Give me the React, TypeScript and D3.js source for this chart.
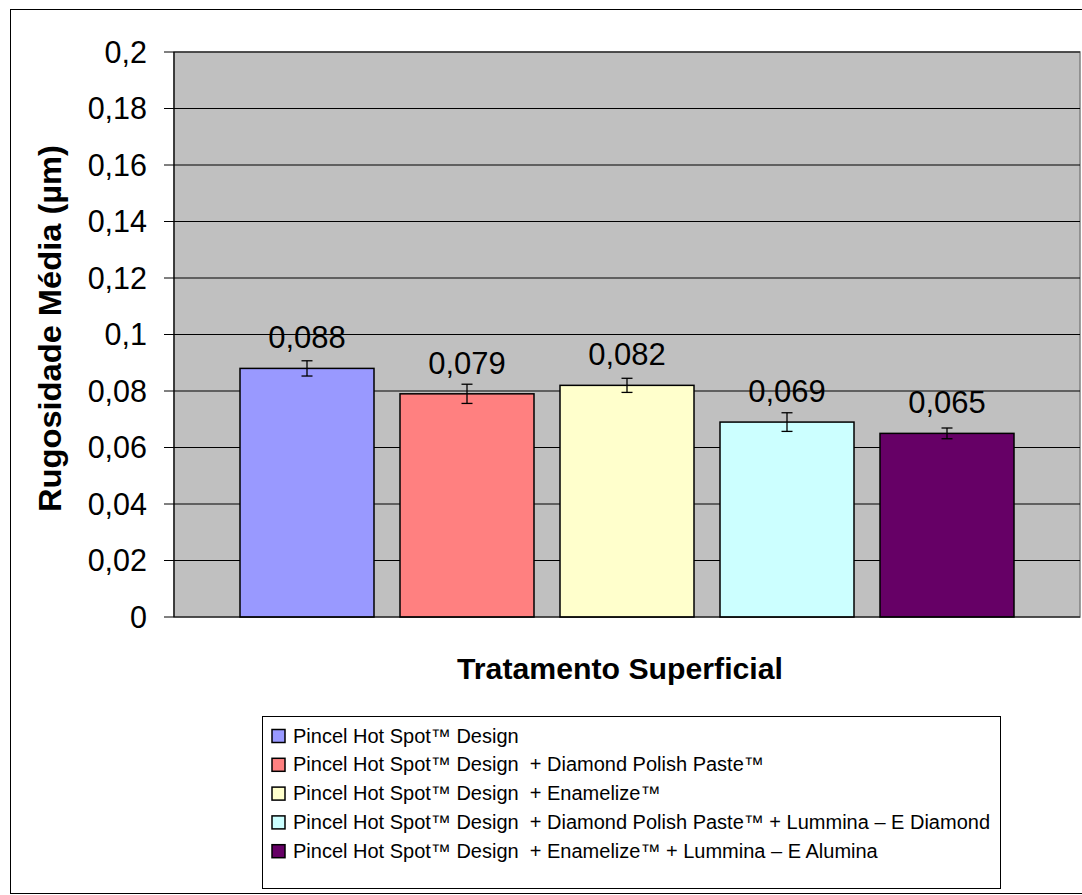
import React from "react";
import * as d3 from "d3";

// Mean roughness (Ra, µm) per surface treatment, with standard deviation bars
const seriesNames = [
  "Pincel Hot Spot™ Design",
  "Pincel Hot Spot™ Design  + Diamond Polish Paste™",
  "Pincel Hot Spot™ Design  + Enamelize™",
  "Pincel Hot Spot™ Design  + Diamond Polish Paste™ + Lummina – E Diamond",
  "Pincel Hot Spot™ Design  + Enamelize™ + Lummina – E Alumina",
];
const meanValues = [0.088, 0.079, 0.082, 0.069, 0.065];
const errorValues = [0.0027, 0.0034, 0.0025, 0.0033, 0.0019];
const seriesColors = ["#9999FF", "#FF8080", "#FFFFCC", "#CCFFFF", "#660066"];
const yTicks = [0, 0.02, 0.04, 0.06, 0.08, 0.1, 0.12, 0.14, 0.16, 0.18, 0.2];

const yTitle = "Rugosidade Média (µm)";
const xTitle = "Tratamento Superficial";

const W = 1082;
const H = 895;
const plot = { left: 174, top: 52, right: 1080, bottom: 617 };

const fmt = (v: number) => String(+v.toFixed(3)).replace(".", ",");

export default function App() {
  const y = d3.scaleLinear().domain([0, 0.2]).range([plot.bottom, plot.top]);
  const x = d3
    .scaleBand<string>()
    .domain(seriesNames)
    .range([227, 1027])
    .paddingInner(26 / 160)
    .paddingOuter(13 / 160);

  const font = "Arial, 'Liberation Sans', sans-serif";
  const legend = { x: 262, y: 716, w: 738, h: 172, row0: 736, step: 28.8 };

  return (
    <svg
      width={W}
      height={H}
      style={{ position: "absolute", left: 0, top: 0 }}
      fontFamily={font}
    >
      <rect x={0} y={0} width={W} height={H} fill="#fff" />
      {/* chart frame */}
      <rect x={10.5} y={9.5} width={W + 10} height={H - 11} fill="none" stroke="#000" strokeWidth={1} />

      {/* plot area */}
      <rect
        x={plot.left}
        y={plot.top}
        width={plot.right - plot.left}
        height={plot.bottom - plot.top}
        fill="#C0C0C0"
        stroke="#808080"
        strokeWidth={1.5}
      />

      {/* gridlines and ticks */}
      {yTicks.map((t) => (
        <g key={t}>
          {t > 0 && (
            <line x1={plot.left} x2={plot.right} y1={y(t)} y2={y(t)} stroke="#000" strokeWidth={1} />
          )}
          <line x1={plot.left - 10} x2={plot.left} y1={y(t)} y2={y(t)} stroke="#000" strokeWidth={1} />
          <text x={147} y={y(t)} dy="0.36em" textAnchor="end" fontSize={30.5} fill="#000">
            {fmt(t)}
          </text>
        </g>
      ))}
      <line x1={plot.left} x2={plot.left} y1={plot.top} y2={plot.bottom} stroke="#000" strokeWidth={1.2} />

      {/* bars */}
      {seriesNames.map((s, i) => {
        const bx = x(s)!;
        const bw = x.bandwidth();
        const cx = bx + bw / 2;
        const v = meanValues[i];
        const e = errorValues[i];
        return (
          <g key={s}>
            <rect x={bx} y={y(v)} width={bw} height={y(0) - y(v)} fill={seriesColors[i]} stroke="#000" strokeWidth={1.5} />
            <line x1={cx} x2={cx} y1={y(v + e)} y2={y(v - e)} stroke="#000" strokeWidth={1.3} />
            <line x1={cx - 5.5} x2={cx + 5.5} y1={y(v + e)} y2={y(v + e)} stroke="#000" strokeWidth={1.3} />
            <line x1={cx - 5.5} x2={cx + 5.5} y1={y(v - e)} y2={y(v - e)} stroke="#000" strokeWidth={1.3} />
            <text x={cx} y={y(v) - 20} textAnchor="middle" fontSize={31} fill="#000">
              {fmt(v)}
            </text>
          </g>
        );
      })}
      <line x1={plot.left} x2={plot.right} y1={plot.bottom} y2={plot.bottom} stroke="#000" strokeWidth={1.2} />

      {/* axis titles */}
      <text
        transform={`translate(61,${328.5}) rotate(-90)`}
        textAnchor="middle"
        fontSize={31}
        fontWeight="bold"
        fill="#000"
        textLength={367}
        lengthAdjust="spacingAndGlyphs"
      >
        {yTitle}
      </text>
      <text
        x={620}
        y={679}
        textAnchor="middle"
        fontSize={30}
        fontWeight="bold"
        fill="#000"
        textLength={326}
        lengthAdjust="spacingAndGlyphs"
      >
        {xTitle}
      </text>

      {/* legend */}
      <rect x={legend.x + 0.5} y={legend.y + 0.5} width={legend.w} height={legend.h} fill="#fff" stroke="#000" strokeWidth={1} />
      {seriesNames.map((s, i) => {
        const cy = legend.row0 + i * legend.step;
        return (
          <g key={s}>
            <rect x={272} y={cy - 6.5} width={13} height={13} fill={seriesColors[i]} stroke="#000" strokeWidth={1.5} />
            <text x={293} y={cy} dy="0.33em" fontSize={20} fill="#000" style={{ whiteSpace: "pre" }}>
              {s}
            </text>
          </g>
        );
      })}
    </svg>
  );
}
